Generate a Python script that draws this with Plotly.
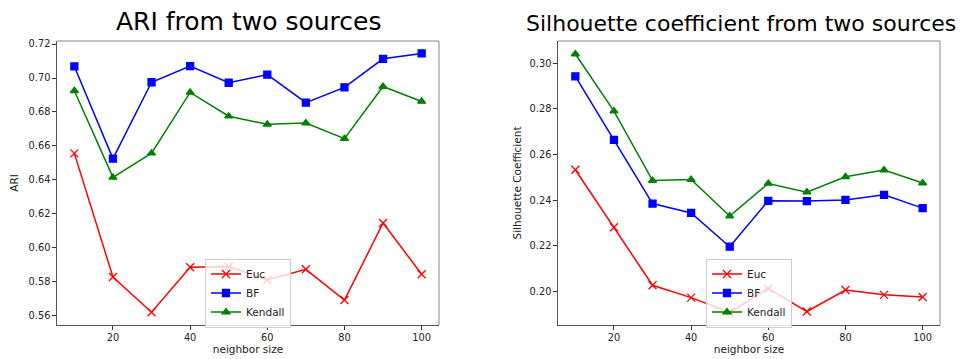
import plotly.graph_objects as go

neighbor_size = [10, 20, 30, 40, 50, 60, 70, 80, 90, 100]

ari_euc = [0.6556, 0.5828, 0.5620, 0.5885, 0.5890, 0.5810, 0.5873, 0.5692, 0.6146, 0.5844]
ari_bf = [0.7068, 0.6525, 0.6975, 0.7070, 0.6972, 0.7020, 0.6855, 0.6945, 0.7113, 0.7145]
ari_kendall = [0.6925, 0.6415, 0.6557, 0.6915, 0.6775, 0.6727, 0.6735, 0.6643, 0.6950, 0.6862]

sil_euc = [0.2533, 0.2281, 0.2027, 0.1973, 0.1908, 0.2013, 0.1912, 0.2006, 0.1985, 0.1976]
sil_bf = [0.2942, 0.2664, 0.2385, 0.2344, 0.2196, 0.2397, 0.2396, 0.2401, 0.2423, 0.2365]
sil_kendall = [0.3040, 0.2790, 0.2486, 0.2490, 0.2330, 0.2473, 0.2435, 0.2502, 0.2532, 0.2475]

series_names = ["Euc", "BF", "Kendall"]
colors = ["#ff0000", "#0000ff", "#008000"]
symbols = ["x-thin-open", "square", "triangle-up"]

W, H = 962, 359
FONT = "DejaVu Sans"

def px_x(p):
    return p / W

def px_y(p):
    return 1 - p / H

fig = go.Figure()

panels = [
    ("x", "y", "legend", [ari_euc, ari_bf, ari_kendall]),
    ("x2", "y2", "legend2", [sil_euc, sil_bf, sil_kendall]),
]

for xa, ya, lg, vals in panels:
    for name, c, s, v in zip(series_names, colors, symbols, vals):
        marker = dict(symbol=s, color=c, size=7 if s != "x-thin-open" else 8,
                      line=dict(color=c, width=1.3))
        fig.add_trace(go.Scatter(
            x=neighbor_size, y=v, name=name, mode="lines+markers",
            line=dict(color=c, width=1.5), marker=marker,
            xaxis=xa, yaxis=ya, legend=lg,
        ))

axis_common = dict(
    showline=True, linecolor="#555", linewidth=1.2, mirror=False,
    ticks="outside", ticklen=3.5, tickwidth=1, tickcolor="#333",
    showgrid=False, zeroline=False, automargin=False,
    tickfont=dict(family=FONT, size=9.8, color="#222"),
)
title_font = dict(family=FONT, size=10.5, color="#222")

dom_y = [px_y(325), px_y(41)]

legend_common = dict(
    xanchor="center", yanchor="middle",
    bgcolor="rgba(255,255,255,0.8)", bordercolor="#d0d0d0", borderwidth=1,
    font=dict(family=FONT, size=10.5, color="#222"), tracegroupgap=0,
    itemwidth=30,
)

fig.update_layout(
    width=W, height=H,
    margin=dict(l=0, r=0, t=0, b=0, autoexpand=False),
    plot_bgcolor="white", paper_bgcolor="white",
    font=dict(family=FONT, size=10.5, color="#222"),
    xaxis=dict(domain=[px_x(57), px_x(439)], range=[5.5, 104.5], tickvals=[20, 40, 60, 80, 100],
               anchor="y", title=dict(text="neighbor size", standoff=3, font=title_font),
               **axis_common),
    yaxis=dict(domain=dom_y, range=[0.5545, 0.7218], dtick=0.02, tick0=0.56, tickformat=".2f",
               anchor="x", title=dict(text="ARI", standoff=7, font=title_font),
               **axis_common),
    xaxis2=dict(domain=[px_x(558), px_x(940)], range=[5.5, 104.5], tickvals=[20, 40, 60, 80, 100],
                anchor="y2", title=dict(text="neighbor size", standoff=3, font=title_font),
                **axis_common),
    yaxis2=dict(domain=dom_y, range=[0.1853, 0.3097], dtick=0.02, tick0=0.20, tickformat=".2f",
                anchor="x2", title=dict(text="Silhouette Coefficient", standoff=5, font=title_font),
                **axis_common),
    legend=dict(x=px_x(248), y=px_y(293), **legend_common),
    legend2=dict(x=px_x(749), y=px_y(293), **legend_common),
    showlegend=True,
    annotations=[
        dict(text="ARI from two sources", x=px_x(248), y=px_y(21), xref="paper", yref="paper",
             xanchor="center", yanchor="middle", showarrow=False,
             font=dict(family=FONT, size=25, color="black")),
        dict(text="Silhouette coefficient from two sources", x=px_x(741), y=px_y(23),
             xref="paper", yref="paper", xanchor="center", yanchor="middle", showarrow=False,
             font=dict(family=FONT, size=22, color="black")),
    ],
    shapes=[
        dict(type="line", xref="x domain", yref="y domain", x0=0, x1=1, y0=1, y1=1,
             line=dict(color="#888", width=1)),
        dict(type="line", xref="x domain", yref="y domain", x0=1, x1=1, y0=0, y1=1,
             line=dict(color="#888", width=1)),
        dict(type="line", xref="x2 domain", yref="y2 domain", x0=0, x1=1, y0=1, y1=1,
             line=dict(color="#888", width=1)),
        dict(type="line", xref="x2 domain", yref="y2 domain", x0=1, x1=1, y0=0, y1=1,
             line=dict(color="#888", width=1)),
    ],
)

fig.write_html("out.html",
               config={"displayModeBar": False},
               post_script="document.body.style.margin='0';document.body.style.overflow='hidden';")
